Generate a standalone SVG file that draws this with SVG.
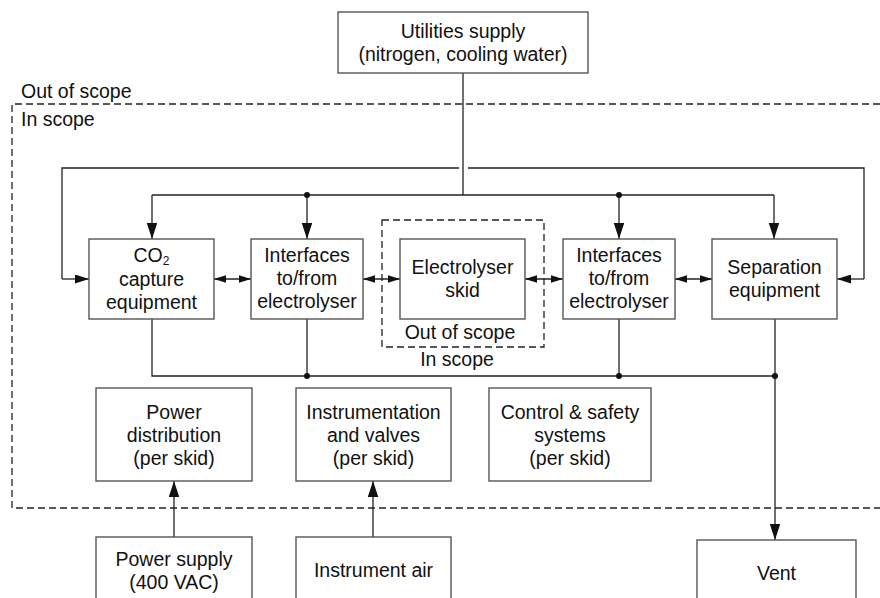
<svg xmlns="http://www.w3.org/2000/svg" width="880" height="598" viewBox="0 0 880 598">
<defs>
<style>
.box{fill:#fff;stroke:#555;stroke-width:1.4}
.ln{fill:none;stroke:#222;stroke-width:1.3}
.dash{fill:none;stroke:#222;stroke-width:1.3;stroke-dasharray:7 4}
text{font-family:"Liberation Sans",Arial,Helvetica,sans-serif;font-size:19.5px;fill:#111}
.c{text-anchor:middle}
.dot{fill:#111}
</style>
<marker id="big" markerUnits="userSpaceOnUse" markerWidth="16" markerHeight="11" refX="16" refY="5.25" orient="auto"><path d="M0,0 L16,5.25 L0,10.5 z" fill="#111"/></marker>
<marker id="side" markerUnits="userSpaceOnUse" markerWidth="14" markerHeight="9" refX="14" refY="4.5" orient="auto"><path d="M0,0 L14,4.5 L0,9 z" fill="#111"/></marker>
<marker id="sm" markerUnits="userSpaceOnUse" markerWidth="12" markerHeight="8" refX="12" refY="3.75" orient="auto"><path d="M0,0 L12,3.75 L0,7.5 z" fill="#111"/></marker>
<marker id="smS" markerUnits="userSpaceOnUse" markerWidth="12" markerHeight="8" refX="0" refY="3.75" orient="auto"><path d="M12,0 L0,3.75 L12,7.5 z" fill="#111"/></marker>
</defs>
<rect width="880" height="598" fill="#fff"/>

<g id="scope">
<path class="dash" d="M880,104 H12 V508 H880"/>
<text x="21" y="98">Out of scope</text>
<text x="21" y="126">In scope</text>
</g>

<g id="electrolyser-scope">
<rect class="dash" x="382" y="220" width="162" height="127"/>
<text class="c" x="460" y="339">Out of scope</text>
<text class="c" x="457" y="366">In scope</text>
</g>

<g id="connectors">
<path class="ln" d="M463,73 V195"/>
<path class="ln" d="M62,279 V168 H459 M468,168 H864 V279"/>
<path class="ln" d="M62,279 H89" marker-end="url(#side)"/>
<path class="ln" d="M864,279 H837" marker-end="url(#side)"/>
<path class="ln" d="M152,195 H774"/>
<path class="ln" d="M152,195 V239" marker-end="url(#big)"/>
<path class="ln" d="M307,195 V239" marker-end="url(#big)"/>
<path class="ln" d="M619,195 V239" marker-end="url(#big)"/>
<path class="ln" d="M774,195 V239" marker-end="url(#big)"/>
<circle class="dot" cx="307" cy="195" r="3"/>
<circle class="dot" cx="619" cy="195" r="3"/>
<path class="ln" d="M214,279 H251" marker-start="url(#smS)" marker-end="url(#sm)"/>
<path class="ln" d="M363,279 H400" marker-start="url(#smS)" marker-end="url(#sm)"/>
<path class="ln" d="M525,279 H563" marker-start="url(#smS)" marker-end="url(#sm)"/>
<path class="ln" d="M675,279 H712" marker-start="url(#smS)" marker-end="url(#sm)"/>
<path class="ln" d="M152,319 V376 H775"/>
<path class="ln" d="M307,319 V376"/>
<path class="ln" d="M619,319 V376"/>
<path class="ln" d="M775,319 V540" marker-end="url(#big)"/>
<circle class="dot" cx="307" cy="376" r="3"/>
<circle class="dot" cx="619" cy="376" r="3"/>
<circle class="dot" cx="775" cy="376" r="3"/>
<path class="ln" d="M174,537 V481" marker-end="url(#big)"/>
<path class="ln" d="M373,537 V481" marker-end="url(#big)"/>
</g>

<g id="utilities">
<rect class="box" x="338" y="12" width="250" height="61"/>
<text class="c" x="463" y="37.5">Utilities supply</text>
<text class="c" x="463" y="60.5">(nitrogen, cooling water)</text>
</g>

<g id="co2">
<rect class="box" x="89" y="239" width="125" height="80"/>
<text class="c" x="151.5" y="262">CO<tspan font-size="12" dy="3">2</tspan></text>
<text class="c" x="151.5" y="286">capture</text>
<text class="c" x="151.5" y="309">equipment</text>
</g>

<g id="interfaces1">
<rect class="box" x="251" y="239" width="112" height="80"/>
<text class="c" x="307" y="262">Interfaces</text>
<text class="c" x="307" y="285">to/from</text>
<text class="c" x="307" y="308">electrolyser</text>
</g>

<g id="electrolyser">
<rect class="box" x="400" y="239" width="125" height="80"/>
<text class="c" x="462.5" y="274">Electrolyser</text>
<text class="c" x="462.5" y="297">skid</text>
</g>

<g id="interfaces2">
<rect class="box" x="563" y="239" width="112" height="80"/>
<text class="c" x="619" y="262">Interfaces</text>
<text class="c" x="619" y="285">to/from</text>
<text class="c" x="619" y="308">electrolyser</text>
</g>

<g id="separation">
<rect class="box" x="712" y="239" width="125" height="80"/>
<text class="c" x="774.5" y="274">Separation</text>
<text class="c" x="774.5" y="297">equipment</text>
</g>

<g id="power-distribution">
<rect class="box" x="96" y="388" width="156" height="93"/>
<text class="c" x="174" y="418.5">Power</text>
<text class="c" x="174" y="441.5">distribution</text>
<text class="c" x="174" y="464.5">(per skid)</text>
</g>

<g id="instrumentation">
<rect class="box" x="296" y="388" width="155" height="93"/>
<text class="c" x="373.5" y="418.5">Instrumentation</text>
<text class="c" x="373.5" y="441.5">and valves</text>
<text class="c" x="373.5" y="464.5">(per skid)</text>
</g>

<g id="control">
<rect class="box" x="489" y="388" width="162" height="93"/>
<text class="c" x="570" y="418.5">Control &amp; safety</text>
<text class="c" x="570" y="441.5">systems</text>
<text class="c" x="570" y="464.5">(per skid)</text>
</g>

<g id="power-supply">
<rect class="box" x="96" y="537" width="156" height="80"/>
<text class="c" x="174" y="566">Power supply</text>
<text class="c" x="174" y="589">(400 VAC)</text>
</g>

<g id="instrument-air">
<rect class="box" x="296" y="537" width="155" height="80"/>
<text class="c" x="373.5" y="577">Instrument air</text>
</g>

<g id="vent">
<rect class="box" x="697" y="540" width="159" height="80"/>
<text class="c" x="776.5" y="580">Vent</text>
</g>
</svg>
